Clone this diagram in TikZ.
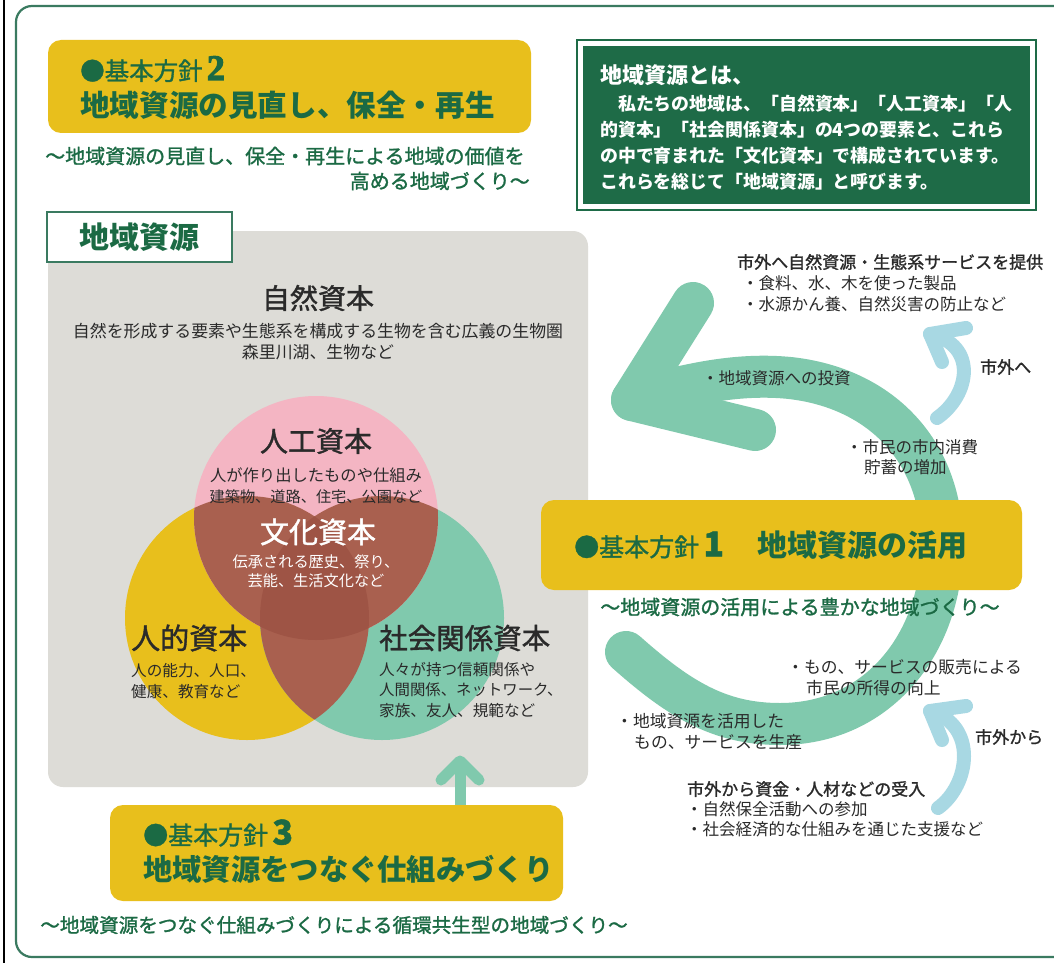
\documentclass[tikz,border=0pt]{standalone}
\usepackage{fontspec}
\setmainfont{Noto Sans CJK JP}
\newfontfamily\jpm[FakeBold=1.3]{Noto Sans CJK JP}
\newfontfamily\serifb[FakeBold=3]{Liberation Serif}
\newcommand\setfs[1]{\fontsize{#1}{#1}\selectfont}
\definecolor{dkgreen}{HTML}{1B6A44}
\definecolor{frameg}{HTML}{3A7A60}
\definecolor{boxg}{HTML}{1E6B47}
\definecolor{ylw}{HTML}{E8BF1C}
\definecolor{gry}{HTML}{DDDCD7}
\definecolor{pnk}{HTML}{F4B5C3}
\definecolor{tealc}{HTML}{80C9AD}
\definecolor{brn}{HTML}{A9604F}
\definecolor{brn2}{HTML}{9E5445}
\definecolor{lblue}{HTML}{A8D8E3}
\definecolor{ink}{HTML}{2A2A2A}
\tikzset{
  txt/.style={inner sep=0pt, text=ink},
  gtxt/.style={inner sep=0pt, text=dkgreen},
  wtxt/.style={inner sep=0pt, text=white},
  ybox/.style={fill=ylw, rounded corners=13pt},
  bigarrow/.style={tealc, line width=42pt, line cap=round, line join=round},
  smallarrow/.style={tealc, line width=11pt, line cap=round, line join=round},
  bluearrow/.style={lblue, line width=14pt, line cap=round, line join=round},
}
\begin{document}
\begin{tikzpicture}[x=1pt,y=-1pt]
\useasboundingbox (0,0) rectangle (1054,963);
\fill[white] (0,0) rectangle (1054,963);
\clip (0,0) rectangle (1054,963);
% outer frame
\draw[black, line width=2pt] (4,0) -- (4,963);
\draw[frameg, line width=2.2pt, rounded corners=16pt] (16,6) rectangle (1080,957);

% ---- basic policy 2 ----
\fill[ybox] (48,40) rectangle (531,133);
\node[gtxt, anchor=base west] (p2a) at (80,80) {\setfs{24.5}\jpm ●基本方針\,{\setfs{36}\serifb\bfseries 2}};
\node[gtxt, anchor=west] (p2b) at (80,105) {\setfs{29.6}\bfseries 地域資源の見直し、保全・再生};
\node[gtxt, anchor=west] (p2c) at (45,156) {\setfs{20}\jpm ～地域資源の見直し、保全・再生による地域の価値を};
\node[gtxt, anchor=east] (p2d) at (530,181) {\setfs{20}\jpm 高める地域づくり～};

% ---- definition box ----
\draw[boxg, line width=1.2pt] (577,40) rectangle (1036,210);
\fill[boxg] (583,46) rectangle (1030,204);
\node[wtxt, anchor=west] (d0) at (600,75) {\setfs{22}\bfseries 地域資源とは、};
\node[wtxt, anchor=west] (d1) at (600,104) {\setfs{17.9}\bfseries 　私たちの地域は、「自然資本」「人工資本」「人};
\node[wtxt, anchor=west] (d2) at (600,130) {\setfs{17.9}\bfseries 的資本」「社会関係資本」の4つの要素と、これら};
\node[wtxt, anchor=west] (d3) at (600,156) {\setfs{17.9}\bfseries の中で育まれた「文化資本」で構成されています。};
\node[wtxt, anchor=west] (d4) at (600,182) {\setfs{17.9}\bfseries これらを総じて「地域資源」と呼びます。};

% ---- gray area ----
\fill[gry, rounded corners=15pt] (48,231) rectangle (588,787);

% Venn
\fill[ylw] (247,618) circle (122pt);
\fill[tealc] (382,618) circle (122pt);
\fill[pnk] (316,518) circle (122pt);
\begin{scope}
  \clip (247,618) circle (122pt);
  \fill[brn] (382,618) circle (122pt);
  \fill[brn] (316,518) circle (122pt);
\end{scope}
\begin{scope}
  \clip (382,618) circle (122pt);
  \fill[brn] (316,518) circle (122pt);
\end{scope}
\begin{scope}
  \clip (247,618) circle (122pt);
  \clip (382,618) circle (122pt);
  \fill[brn2] (316,518) circle (122pt);
\end{scope}

\node[txt] (n1) at (318,298) {\setfs{28}\jpm 自然資本};
\node[txt] (n2) at (318,331) {\setfs{16.9}自然を形成する要素や生態系を構成する生物を含む広義の生物圏};
\node[txt] (n3) at (318,352) {\setfs{16.9}森里川湖、生物など};
\node[txt] (a1) at (316,441) {\setfs{28}\jpm 人工資本};
\node[txt] (a2) at (316,475) {\setfs{16.3}人が作り出したものや仕組み};
\node[txt] (a3) at (316,497) {\setfs{15.2}建築物、道路、住宅、公園など};
\node[wtxt] (c1) at (318,532) {\setfs{29}\jpm 文化資本};
\node[wtxt] (c2) at (316,562) {\setfs{15.2}伝承される歴史、祭り、};
\node[wtxt] (c3) at (316,581) {\setfs{15.2}芸能、生活文化など};
\node[txt, anchor=west] (h1) at (131,638) {\setfs{29}\jpm 人的資本};
\node[txt, anchor=west] (h2) at (131,671) {\setfs{15.6}人の能力、人口、};
\node[txt, anchor=west] (h3) at (131,692) {\setfs{15.6}健康、教育など};
\node[txt, anchor=west] (s1) at (379,638) {\setfs{28.5}\jpm 社会関係資本};
\node[txt, anchor=west] (s2) at (379,670) {\setfs{15.6}人々が持つ信頼関係や};
\node[txt, anchor=west] (s3) at (379,690) {\setfs{15.4}人間関係、ネットワーク、};
\node[txt, anchor=west] (s4) at (379,711) {\setfs{15.6}家族、友人、規範など};

% label box
\node[draw=frameg, line width=2.5pt, fill=white, minimum width=185pt, minimum height=50pt, inner sep=0pt, text=dkgreen] (lbl) at (139.5,237) {\setfs{30}\bfseries 地域資源};

% ---- big cycle arrow ----
\draw[bigarrow] (626,652) .. controls (680,700) and (720,724) .. (780,724)
   .. controls (880,724) and (944,640) .. (942,540)
   .. controls (940,450) and (880,388) .. (790,378)
   .. controls (740,373) and (690,383) .. (632,400);
\draw[bigarrow] (693,303) -- (632,400) -- (755,430);

% light blue arrows
\draw[bluearrow] (937,418) .. controls (970,395) and (978,345) .. (930,334);
\draw[bluearrow] (966,328) -- (930,334) -- (942,362);
\draw[bluearrow] (938,808) .. controls (970,785) and (978,725) .. (930,711);
\draw[bluearrow] (966,706) -- (930,711) -- (942,740);

% up arrow from policy 3
\draw[smallarrow] (460,805) -- (460,762);
\draw[smallarrow] (441,780) -- (460,761) -- (479,780);

% ---- basic policy 1 ----
\fill[ybox] (541,500) rectangle (1022,590);
\node[gtxt, anchor=west] (p1a) at (574,545) {\setfs{25}\jpm ●基本方針\,{\setfs{34}\bfseries 1}};
\node[gtxt, anchor=west] (p1b) at (757,545) {\setfs{30}\bfseries 地域資源の活用};
\node[gtxt] (p1c) at (800,607) {\setfs{20}\jpm ～地域資源の活用による豊かな地域づくり～};

% ---- basic policy 3 ----
\fill[ybox] (110,805) rectangle (563,901);
\node[gtxt, anchor=west] (p3a) at (143,833) {\setfs{25}\jpm ●基本方針\,{\setfs{34}\bfseries 3}};
\node[gtxt, anchor=west] (p3b) at (143,869) {\setfs{29.3}\bfseries 地域資源をつなぐ仕組みづくり};
\node[gtxt] (p3c) at (334,925) {\setfs{19.6}\jpm ～地域資源をつなぐ仕組みづくりによる循環共生型の地域づくり～};

% ---- right side texts ----
\node[txt, anchor=west] (r1) at (737,262) {\setfs{17}\jpm 市外へ自然資源・生態系サービスを提供};
\node[txt, anchor=west] (r2) at (742,283) {\setfs{16.5}・食料、水、木を使った製品};
\node[txt, anchor=west] (r3) at (742,304) {\setfs{16.5}・水源かん養、自然災害の防止など};
\node[txt, anchor=west] (r4) at (980,367) {\setfs{17}\jpm 市外へ};
\node[txt, anchor=west] (r5) at (702,378) {\setfs{16.5}・地域資源への投資};
\node[txt, anchor=west] (r6) at (846,447) {\setfs{16.5}・市民の市内消費};
\node[txt, anchor=west] (r7) at (864,467) {\setfs{16.5}貯蓄の増加};
\node[txt, anchor=west] (r8) at (787,667) {\setfs{16.8}・もの、サービスの販売による};
\node[txt, anchor=west] (r9) at (806,688) {\setfs{16.8}市民の所得の向上};
\node[txt, anchor=west] (r10) at (616,721) {\setfs{16.8}・地域資源を活用した};
\node[txt, anchor=west] (r11) at (634,742) {\setfs{16.8}もの、サービスを生産};
\node[txt, anchor=west] (r12) at (975,737) {\setfs{17}\jpm 市外から};
\node[txt, anchor=west] (r13) at (687,789) {\setfs{17}\jpm 市外から資金・人材などの受入};
\node[txt, anchor=west] (r14) at (686,809) {\setfs{16.5}・自然保全活動への参加};
\node[txt, anchor=west] (r15) at (686,829) {\setfs{16.5}・社会経済的な仕組みを通じた支援など};
\end{tikzpicture}
\end{document}
